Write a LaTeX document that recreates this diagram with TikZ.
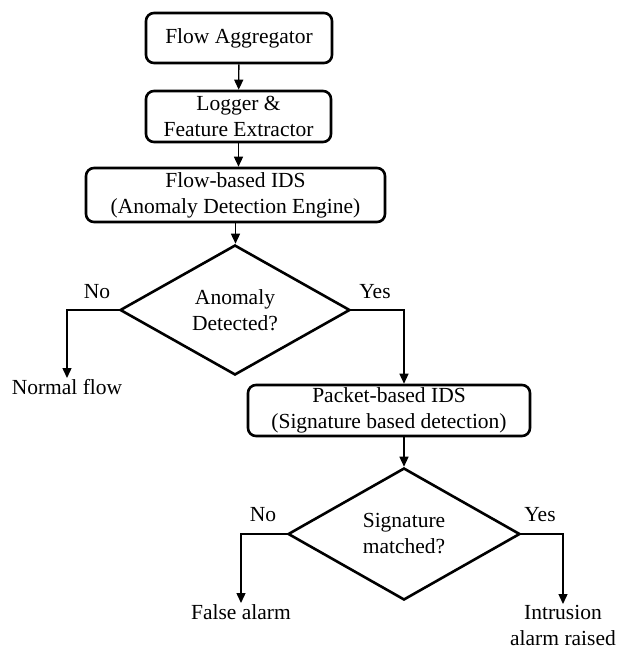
\documentclass[tikz,border=0pt]{standalone}
\usepackage{fontspec}
\setmainfont{Liberation Serif}
\usetikzlibrary{shapes.geometric,arrows.meta}
\begin{document}
\begin{tikzpicture}[x=1pt,y=-1pt,
  every node/.style={font=\fontsize{21.5}{26}\selectfont},
  procbox/.style={draw, line width=2.6pt, rounded corners=8pt, align=center, inner sep=0pt},
  decide/.style={draw, shape=diamond, line width=2.6pt, aspect=1.77, inner sep=0pt, align=center},
  lbl/.style={inner sep=1pt, align=center},
  arr/.style={line width=1.4pt, -{Triangle[width=9pt,length=10pt]}}
]
\useasboundingbox (0,0) rectangle (618,651);
\node[procbox, minimum width=186pt, minimum height=50pt] (fa) at (239,38) {Flow Aggregator};
\node[procbox, minimum width=185pt, minimum height=51pt] (lg) at (238.5,116.5) {Logger \&\\Feature Extractor};
\node[procbox, minimum width=299pt, minimum height=54pt] (fb) at (235.5,195) {Flow-based IDS\\(Anomaly Detection Engine)};
\node[decide, minimum width=230pt, minimum height=130pt] (d1) at (235,310) {Anomaly\\Detected?};
\node[lbl, anchor=north] (nf) at (67,378) {Normal flow};
\node[procbox, minimum width=282pt, minimum height=51pt] (pb) at (389,410.5) {Packet-based IDS\\(Signature based detection)};
\node[decide, minimum width=232pt, minimum height=132pt] (d2) at (404,534) {Signature\\matched?};
\node[lbl, anchor=north] (fal) at (241,603) {False alarm};
\node[lbl, anchor=north] (ia) at (563,604) {Intrusion\\alarm raised};
\node[lbl] (no1) at (97,292) {No};
\node[lbl] (yes1) at (375,292) {Yes};
\node[lbl] (no2) at (263,515) {No};
\node[lbl] (yes2) at (540,515) {Yes};

\draw[arr] (fa) -- (lg);
\draw[arr] (lg.south) -- (lg.south |- fb.north);
\draw[arr] (fb.south) -- (fb.south |- d1.north);
\draw[arr] (d1.west) -| (nf.north);
\draw[arr] (d1.east) -| (pb.north -| d2.north);
\draw[arr] (pb.south -| d2.north) -- (d2.north);
\draw[arr] (d2.west) -| (fal.north);
\draw[arr] (d2.east) -| (ia.north);
\end{tikzpicture}
\end{document}
